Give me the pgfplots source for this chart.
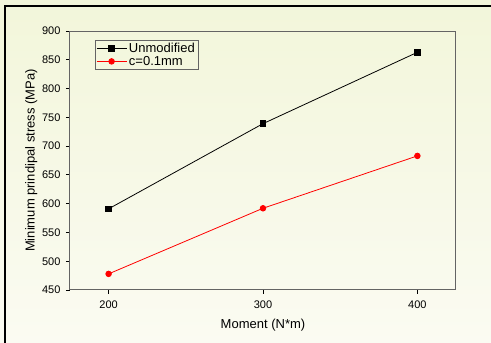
\documentclass[border=0pt]{standalone}
\usepackage{pgfplots}
\pgfplotsset{compat=1.18}
\usepackage{fontspec}
\setmainfont{Liberation Sans}
\definecolor{bgtop}{RGB}{242,246,218}
\definecolor{bgbot}{RGB}{251,251,242}
\definecolor{axgray}{RGB}{100,100,100}
\begin{document}
\begin{tikzpicture}[x=1pt,y=1pt]
\useasboundingbox (0,0) rectangle (491,343);
\shade[top color=bgtop, bottom color=bgbot] (0,0) rectangle (491,343);
\draw[line width=1.2pt, black] (5,0) -- (5,337) -- (491,337);
\begin{axis}[
  at={(70pt,53pt)}, anchor=south west,
  scale only axis, width=386pt, height=259pt,
  xmin=175, xmax=425, ymin=450, ymax=900,
  xtick={200,300,400}, ytick={450,500,...,900},
  tick align=outside, tick pos=left,
  major tick length=4pt,
  axis line style={axgray, line width=1pt},
  every tick/.style={black, line width=0.8pt},
  tick label style={font=\fontsize{11}{13}\selectfont},
  xticklabel style={yshift=-3pt},
  yticklabel style={xshift=-2pt},
  /pgf/number format/assume math mode=true,
  xlabel={Moment (N*m)}, ylabel={Minimum prindipal stress (MPa)},
  label style={font=\fontsize{13}{15}\selectfont},
  xlabel style={yshift=-4pt},
  ylabel style={yshift=-2pt},
  axis background/.style={fill=none},
  legend style={at={(25pt,250pt)}, anchor=north west, draw=axgray,
    font=\fontsize{13}{14}\selectfont, inner sep=1pt, row sep=-2pt,
    fill=none},
  legend cell align=left,
  legend image code/.code={\draw[mark repeat=2,mark phase=2,#1] plot coordinates {(0pt,0pt) (15pt,0pt) (30pt,0pt)};},
]
\addplot[black, line width=0.8pt, mark=square*, mark size=2.8pt] coordinates {(200,591) (300,739) (400,863)};
\addlegendentry{Unmodified}
\addplot[red, line width=0.8pt, mark=*, mark size=2.8pt] coordinates {(200,478) (300,592) (400,683)};
\addlegendentry{c=0.1mm}
\end{axis}
\end{tikzpicture}
\end{document}
